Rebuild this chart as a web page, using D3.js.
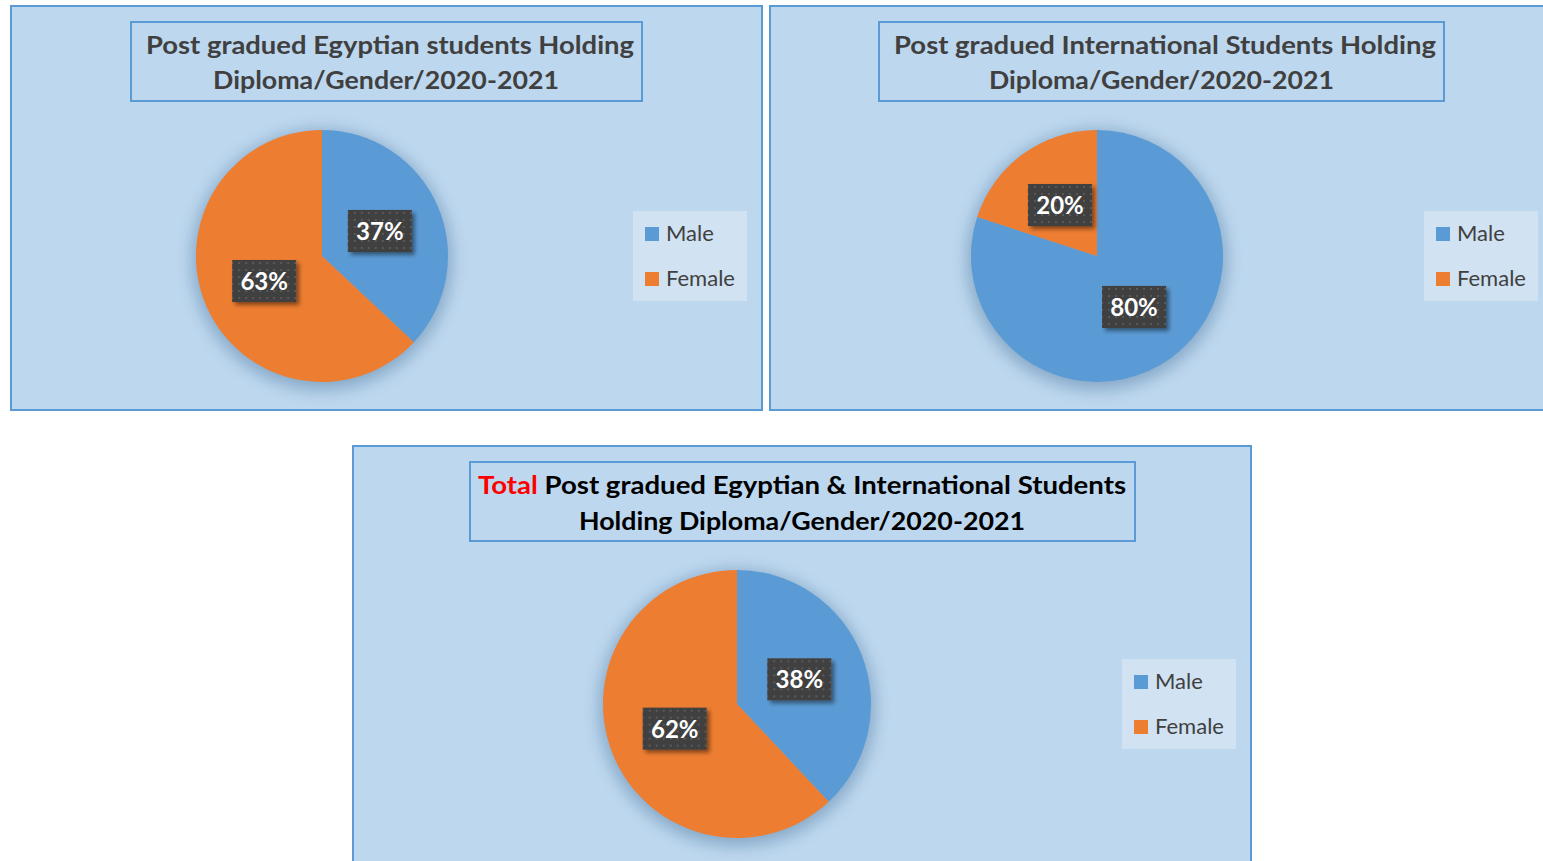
<!DOCTYPE html>
<html>
<head>
<meta charset="utf-8">
<script src="https://cdn.jsdelivr.net/npm/d3@7"></script>
<style>
  html, body { margin: 0; padding: 0; background: #ffffff; }
  svg { display: block; }
</style>
</head>
<body>
<svg id="chart" width="1543" height="861"></svg>
<script>
// Series and labels
const genders = ["Male", "Female"];
const egyptianShares = [37, 63];
const internationalShares = [80, 20];
const totalShares = [38, 62];
const egyptianTitle = ["Post gradued Egyptian students Holding", "Diploma/Gender/2020-2021"];
const internationalTitle = ["Post gradued International Students Holding", "Diploma/Gender/2020-2021"];
const totalTitleLead = "Total";
const totalTitle = ["Post gradued Egyptian & International Students", "Holding Diploma/Gender/2020-2021"];

const svg = d3.select("#chart");
const defs = svg.append("defs");

const colour = d3.scaleOrdinal().domain(genders).range(["#5b9bd5", "#ed7d31"]);

// Dotted fill for the value labels
const pat = defs.append("pattern")
  .attr("id", "dots").attr("patternUnits", "userSpaceOnUse")
  .attr("width", 7).attr("height", 7);
pat.append("rect").attr("width", 7).attr("height", 7).attr("fill", "#3f3f3f");
pat.append("rect").attr("x", 2).attr("y", 2).attr("width", 2).attr("height", 2).attr("fill", "#5a5a5a");

// Soft halo around each pie
const halo = defs.append("filter").attr("id", "halo")
  .attr("x", "-30%").attr("y", "-30%").attr("width", "160%").attr("height", "160%");
halo.append("feGaussianBlur").attr("stdDeviation", 8);

// Drop shadow under the value labels
const lblShadow = defs.append("filter").attr("id", "lblShadow")
  .attr("x", "-30%").attr("y", "-30%").attr("width", "170%").attr("height", "170%");
lblShadow.append("feDropShadow").attr("dx", 3).attr("dy", 3)
  .attr("stdDeviation", 2).attr("flood-color", "#000").attr("flood-opacity", 0.45);

const FONT = "Lato, 'Open Sans', sans-serif";

function drawPanel(cfg) {
  const g = svg.append("g");

  // panel background
  g.append("rect")
    .attr("x", cfg.panel[0]).attr("y", cfg.panel[1])
    .attr("width", cfg.panel[2]).attr("height", cfg.panel[3])
    .attr("fill", "#bdd7ee").attr("stroke", "#5b9bd5").attr("stroke-width", 2);

  // title box
  g.append("rect")
    .attr("x", cfg.titleBox[0]).attr("y", cfg.titleBox[1])
    .attr("width", cfg.titleBox[2]).attr("height", cfg.titleBox[3])
    .attr("fill", "none").attr("stroke", "#5b9bd5").attr("stroke-width", 2);

  cfg.title.forEach((line, i) => {
    const t = g.append("text")
      .attr("x", cfg.titleLines[i][0])
      .attr("y", cfg.titleLines[i][1])
      .attr("font-family", FONT).attr("font-weight", 700)
      .attr("font-size", 25)
      .attr("fill", cfg.titleColour)
      .attr("textLength", cfg.titleLines[i][2])
      .attr("lengthAdjust", "spacingAndGlyphs");
    if (i === 0 && cfg.lead) {
      t.append("tspan").attr("fill", "#ff0000").text(cfg.lead + " ");
    }
    t.append("tspan").text(line);
  });

  // pie
  const [cx, cy] = cfg.centre;
  const r = cfg.radius;
  const pie = d3.pie().sort(null).value(d => d.value);
  const arcs = pie(genders.map((k, i) => ({ key: k, value: cfg.values[i] })));
  const arc = d3.arc().innerRadius(0).outerRadius(r);

  const pg = g.append("g").attr("transform", `translate(${cx},${cy})`);
  pg.append("circle").attr("cx", 0).attr("cy", 4).attr("r", r + 4)
    .attr("fill", "#2e5f8a").attr("opacity", 0.38).attr("filter", "url(#halo)");
  pg.selectAll("path.slice").data(arcs).join("path")
    .attr("class", "slice")
    .attr("d", arc)
    .attr("fill", d => colour(d.data.key));

  // value labels at half radius on each slice's mid-angle
  const lg = pg.selectAll("g.lbl").data(arcs).join("g")
    .attr("class", "lbl")
    .attr("transform", d => `translate(${arc.centroid(d)})`);
  lg.append("rect")
    .attr("x", -32).attr("y", -21).attr("width", 64).attr("height", 42)
    .attr("fill", "url(#dots)").attr("filter", "url(#lblShadow)");
  lg.append("text")
    .attr("text-anchor", "middle").attr("y", 9)
    .attr("font-family", FONT).attr("font-weight", 700).attr("font-size", 24)
    .attr("fill", "#ffffff")
    .text(d => d.data.value + "%");

  // legend
  const [lx, ly, lw, lh] = cfg.legend;
  g.append("rect").attr("x", lx).attr("y", ly).attr("width", lw).attr("height", lh)
    .attr("fill", "#d1e2f3");
  const items = g.selectAll("g.leg").data(genders).join("g")
    .attr("class", "leg")
    .attr("transform", (d, i) => `translate(${lx + 12},${ly + 16 + i * 45})`);
  items.append("rect").attr("width", 14).attr("height", 14).attr("fill", d => colour(d));
  items.append("text").attr("x", 21).attr("y", 14)
    .attr("font-family", FONT).attr("font-size", 22).attr("fill", "#404040")
    .text(d => d);
}

drawPanel({
  panel: [11, 6, 751, 404],
  titleBox: [131, 22, 511, 79],
  title: egyptianTitle,
  titleLines: [[146, 54, 488], [213, 89, 346]],
  titleColour: "#404040",
  centre: [322, 256], radius: 126,
  values: egyptianShares,
  legend: [633, 211, 114, 90]
});

drawPanel({
  panel: [770, 6, 790, 404],
  titleBox: [879, 22, 565, 79],
  title: internationalTitle,
  titleLines: [[894, 54, 542], [989, 89, 345]],
  titleColour: "#404040",
  centre: [1097, 256], radius: 126,
  values: internationalShares,
  legend: [1424, 211, 114, 90]
});

drawPanel({
  panel: [353, 446, 898, 430],
  titleBox: [470, 462, 665, 79],
  title: totalTitle,
  lead: totalTitleLead,
  titleLines: [[478, 494, 648], [579, 530, 446]],
  titleColour: "#000000",
  centre: [737, 704], radius: 134,
  values: totalShares,
  legend: [1122, 659, 114, 90]
});
</script>
</body>
</html>
